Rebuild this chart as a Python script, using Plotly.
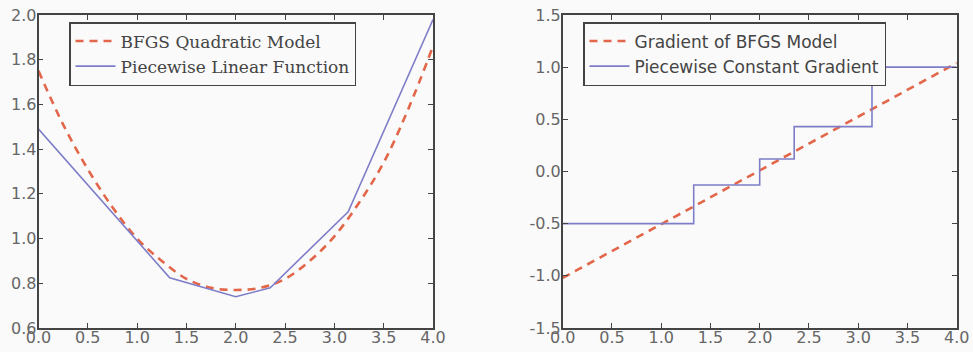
import plotly.graph_objects as go

# ---- data ----
quad_x = [0.0, 0.25, 0.5, 0.75, 1.0, 1.25, 1.5, 1.75, 2.0, 2.25, 2.5, 2.75, 3.0, 3.25, 3.5, 3.75, 4.0]
quad_y = [1.75, 1.51, 1.31, 1.14, 1.00, 0.90, 0.82, 0.78, 0.77, 0.78, 0.82, 0.90, 1.01, 1.16, 1.34, 1.58, 1.86]

pw_x = [0.0, 1.33, 2.0, 2.35, 3.14, 4.0]
pw_y = [1.49, 0.825, 0.74, 0.78, 1.12, 1.98]

grad_x = [0.0, 4.0]
grad_y = [-1.02, 1.04]

step_x = [0.0, 1.33, 2.0, 2.35, 3.14, 4.0]
step_y = [-0.50, -0.13, 0.12, 0.43, 1.00, 1.00]

x_ticks = [0.0, 0.5, 1.0, 1.5, 2.0, 2.5, 3.0, 3.5, 4.0]
left_y_ticks = [0.6, 0.8, 1.0, 1.2, 1.4, 1.6, 1.8, 2.0]
right_y_ticks = [-1.5, -1.0, -0.5, 0.0, 0.5, 1.0, 1.5]

legend_left = ["BFGS Quadratic Model", "Piecewise Linear Function"]
legend_right = ["Gradient of BFGS Model", "Piecewise Constant Gradient"]

DASH_COL = "#E2674A"
SOLID_COL = "#7E7EC8"

fig = go.Figure()
fig.add_trace(go.Scatter(x=quad_x, y=quad_y, mode="lines", name=legend_left[0],
                         line=dict(color=DASH_COL, width=2.6, dash="8px,6px", shape="spline"),
                         xaxis="x", yaxis="y", legend="legend"))
fig.add_trace(go.Scatter(x=pw_x, y=pw_y, mode="lines", name=legend_left[1],
                         line=dict(color=SOLID_COL, width=1.6),
                         xaxis="x", yaxis="y", legend="legend"))
fig.add_trace(go.Scatter(x=grad_x, y=grad_y, mode="lines", name=legend_right[0],
                         line=dict(color=DASH_COL, width=2.6, dash="8px,6px"),
                         xaxis="x2", yaxis="y2", legend="legend2"))
fig.add_trace(go.Scatter(x=step_x, y=step_y, mode="lines", name=legend_right[1],
                         line=dict(color=SOLID_COL, width=1.6, shape="hv"),
                         xaxis="x2", yaxis="y2", legend="legend2"))

W, H = 973, 352
ax_common = dict(showgrid=False, zeroline=False, showline=True, linecolor="#444", linewidth=1.6,
                 mirror="ticks", ticks="inside", ticklen=5, tickwidth=1, tickcolor="#444",
                 automargin=False,
                 tickfont=dict(family="DejaVu Sans", size=16, color="#666"))

fig.update_layout(
    width=W, height=H, margin=dict(l=0, r=0, t=0, b=0, autoexpand=False),
    paper_bgcolor="#fafafa", plot_bgcolor="#fafafa",
    xaxis=dict(domain=[38.5 / W, 433 / W], range=[0, 4], tickvals=x_ticks, ticklabelstandoff=-6,
               ticktext=[f"{v:.1f}" for v in x_ticks], anchor="y", **ax_common),
    yaxis=dict(domain=[1 - 328 / H, 1 - 15 / H], range=[0.6, 2.0], tickvals=left_y_ticks, ticklabelstandoff=-3,
               ticktext=[f"{v:.1f}" for v in left_y_ticks], anchor="x", **ax_common),
    xaxis2=dict(domain=[562.7 / W, 956.7 / W], range=[0, 4], tickvals=x_ticks, ticklabelstandoff=-6,
                ticktext=[f"{v:.1f}" for v in x_ticks], anchor="y2", **ax_common),
    yaxis2=dict(domain=[1 - 328 / H, 1 - 15 / H], range=[-1.5, 1.5], tickvals=right_y_ticks, ticklabelstandoff=-3,
                ticktext=[f"{v:.1f}" for v in right_y_ticks], anchor="x2", **ax_common),
    legend=dict(x=69 / W, y=1 - 22 / H, xanchor="left", yanchor="top",
                bgcolor="#fafafa", bordercolor="#444", borderwidth=1.5,
                font=dict(family="'DejaVu Serif', 'Liberation Serif', serif", size=17, color="#444"),
                itemwidth=40, tracegroupgap=0),
    legend2=dict(x=583 / W, y=1 - 22 / H, xanchor="left", yanchor="top",
                 bgcolor="#fafafa", bordercolor="#444", borderwidth=1.5,
                 font=dict(family="DejaVu Sans", size=17, color="#444"),
                 itemwidth=40, tracegroupgap=0),
    showlegend=True,
)

fig.write_html("out.html")
